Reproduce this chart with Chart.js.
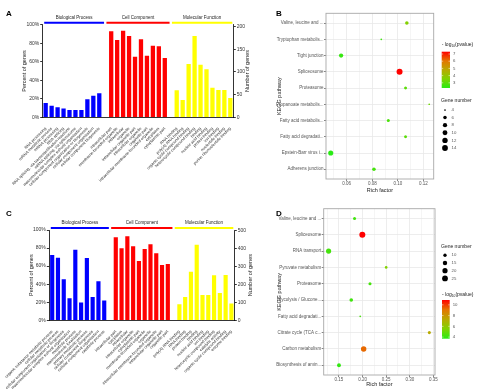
<!DOCTYPE html>
<html>
<head>
<meta charset="utf-8">
<script src="https://cdn.jsdelivr.net/npm/chart.js@4.4.0/dist/chart.umd.min.js"></script>
<style>
  html, body { margin: 0; padding: 0; background: #fff; }
  #wrap { position: relative; width: 482px; height: 392px; overflow: hidden; font-family: 'Liberation Sans', Arial, sans-serif; }
  #wrap canvas { position: absolute; }
  .tag { position: absolute; font-weight: bold; font-size: 8px; line-height: 1; }
</style>
</head>
<body>
<div id="wrap">
  <canvas id="goA" width="258" height="196" style="left:0;top:0"></canvas>
  <canvas id="keggB" width="224" height="196" style="left:258px;top:0"></canvas>
  <canvas id="goC" width="258" height="196" style="left:0;top:196px"></canvas>
  <canvas id="keggD" width="224" height="196" style="left:258px;top:196px"></canvas>
  <div class="tag" style="left:6px;top:10px">A</div>
  <div class="tag" style="left:276px;top:10px">B</div>
  <div class="tag" style="left:6px;top:210px">C</div>
  <div class="tag" style="left:276px;top:210px">D</div>
</div>
<script>
// --- GO panels (A, C) ---
const goGroupNames = ['Biological Process', 'Cell Component', 'Molecular Function'];
const goGroupColors = ['#0000ff', '#ff0000', '#ffff00'];

const aBpTerms = ['RNA processing', 'mRNA metabolic process', 'mRNA processing', 'RNA splicing',
  'RNA splicing, via transesterification reactions', 'mRNA splicing, via spliceosome',
  'macromolecular complex subunit organization', 'cellular component organization or biogenesis',
  'cellular component organization', 'cellular component biogenesis'];
const aBpPct = [15.5, 12.6, 10.8, 9.4, 7.9, 7.9, 7.9, 19.4, 23.4, 25.9];
const aCcTerms = ['intracellular part', 'membrane-bounded organelle', 'intracellular', 'organelle',
  'intracellular organelle part', 'intracellular organelle', 'organelle part',
  'intracellular membrane-bounded organelle', 'cytoplasm', 'cytoplasmic part'];
const aCcPct = [92.8, 83.5, 93.5, 87.8, 65.5, 84.2, 66.5, 77.3, 76.6, 64];
const aMfTerms = ['RNA binding', 'poly(A) RNA binding', 'organic cyclic compound binding',
  'heterocyclic compound binding', 'binding', 'nucleic acid binding', 'protein binding',
  'ion binding', 'nucleotide binding', 'purine ribonucleotide binding'];
const aMfPct = [29.1, 18.7, 57.6, 87.8, 56.8, 51.8, 32, 29.5, 29.5, 20.9];
const aGeneTotal = 204;
const aGeneTicks = [0, 50, 100, 150, 200];

const cBpTerms = ['organic substance metabolic process', 'cellular metabolic process',
  'cellular component organization or biogenesis', 'macromolecular complex subunit organization',
  'metabolic process', 'macromolecule localization', 'primary metabolic process',
  'cellular component biogenesis', 'cellular component organization', 'catabolic process'];
const cBpPct = [72.3, 69.4, 45.4, 24.4, 78.2, 19.6, 69, 25.8, 43.2, 21.8];
const cCcTerms = ['intracellular part', 'cytoplasm', 'intracellular', 'intracellular organelle',
  'cytoplasmic part', 'membrane-bounded organelle', 'organelle',
  'intracellular membrane-bounded organelle', 'intracellular organelle part', 'organelle part'];
const cCcPct = [91.9, 79.7, 93, 81.9, 65.7, 79, 84.1, 74.2, 61.3, 62.4];
const cMfTerms = ['poly(A) RNA binding', 'RNA binding', 'protein binding', 'binding',
  'nucleic acid binding', 'ion binding', 'heterocyclic compound binding', 'catalytic activity',
  'organic cyclic compound binding', 'enzyme binding'];
const cMfPct = [17.7, 25.8, 53.9, 83.8, 28, 28, 49.8, 30.3, 50.2, 18.5];
const cGeneTotal = 504;
const cGeneTicks = [0, 100, 200, 300, 400, 500];

const pctTicks = [0, 20, 40, 60, 80, 100];

// --- KEGG panels (B, D) ---
const bPathways = ['Valine, leucine and ...', 'Tryptophan metabolis...', 'Tight junction', 'Spliceosome',
  'Proteasome', 'Propanoate metabolis...', 'Fatty acid metabolis...', 'Fatty acid degradati...',
  'Epstein-Barr virus i...', 'Adherens junction'];
const bRichFactor = [0.107, 0.087, 0.0556, 0.1013, 0.106, 0.1245, 0.0925, 0.106, 0.0475, 0.0813];
const bGeneNumber = [6, 4, 8, 15, 5, 4, 5, 5, 11, 6];
const bLogP = [3.6, 2.6, 2.5, 7.3, 3.0, 3.3, 2.8, 3.0, 2.3, 2.7];
const bRichTicks = [0.06, 0.08, 0.10, 0.12];
const bRichMinor = [0.05, 0.07, 0.09, 0.11];
const bGeneBreaks = [4, 6, 8, 10, 12, 14];
const bLogPTicks = [3, 4, 5, 6, 7];

const dPathways = ['Valine, leucine and ...', 'Spliceosome', 'RNA transport', 'Pyruvate metabolism',
  'Proteasome', 'Glycolysis / Glucone...', 'Fatty acid degradati...', 'Citrate cycle (TCA c...',
  'Carbon metabolism', 'Biosynthesis of amin...'];
const dRichFactor = [0.183, 0.1995, 0.128, 0.250, 0.2157, 0.176, 0.195, 0.3415, 0.2023, 0.150];
const dGeneNumber = [9, 27, 20, 8, 9, 11, 7, 9, 22, 12];
const dLogP = [4.2, 10.9, 4.3, 5.5, 4.3, 4.2, 4.4, 7.3, 9.3, 3.9];
const dRichTicks = [0.15, 0.20, 0.25, 0.30, 0.35];
const dRichMinor = [0.125, 0.175, 0.225, 0.275, 0.325];
const dGeneBreaks = [10, 15, 20, 25];
const dLogPTicks = [4, 6, 8, 10];

const FONT = "'Liberation Sans', Arial, sans-serif";
Chart.defaults.font.family = FONT;

// green -> red gradient (rough copy of the ggplot Lab ramp)
const pvalStops = [[40, 235, 20], [128, 210, 0], [184, 170, 0], [228, 118, 0], [255, 0, 0]];
function pvalColor(v, range) {
  let t = (v - range[0]) / (range[1] - range[0]);
  t = Math.min(1, Math.max(0, t));
  const s = t * (pvalStops.length - 1);
  const i = Math.min(Math.floor(s), pvalStops.length - 2);
  const f = s - i;
  const c = pvalStops[i].map((a, k) => Math.round(a + (pvalStops[i + 1][k] - a) * f));
  return 'rgb(' + c.join(',') + ')';
}

// area-style size scale
function geneRadius(n, range) {
  const t = Math.min(1, Math.max(0, (n - range[0]) / (range[1] - range[0])));
  return 0.85 + 2.15 * Math.sqrt(t);
}

// header bars above GO groups + right axis title
const goHeader = {
  id: 'goHeader',
  afterDraw(chart, args, o) {
    const { ctx, chartArea: area, scales: { x } } = chart;
    const slot = x.getPixelForValue(1) - x.getPixelForValue(0);
    ctx.save();
    o.groups.forEach(g => {
      const x0 = Math.max(area.left + 1.5, x.getPixelForValue(g.first) - 0.8 * slot);
      const x1 = Math.min(area.right - 1, x.getPixelForValue(g.last) + 0.8 * slot);
      ctx.strokeStyle = g.color;
      ctx.lineWidth = 2;
      ctx.beginPath();
      ctx.moveTo(x0, area.top - 2);
      ctx.lineTo(x1, area.top - 2);
      ctx.stroke();
      ctx.fillStyle = '#222';
      ctx.font = '4.5px ' + FONT;
      ctx.textAlign = 'center';
      ctx.textBaseline = 'middle';
      ctx.fillText(g.name, (x0 + x1) / 2, area.top - 7.2);
    });
    ctx.translate(area.right + o.rightTitleOffset, (area.top + area.bottom) / 2);
    ctx.rotate(-Math.PI / 2);
    ctx.fillStyle = '#222';
    ctx.font = '5.5px ' + FONT;
    ctx.textAlign = 'center';
    ctx.textBaseline = 'middle';
    ctx.fillText(o.rightTitle, 0, 0);
    ctx.restore();
  }
};

function makeGoChart(id, bp, bpPct, cc, ccPct, mf, mfPct, geneTotal, geneTicks, geo) {
  const labels = [...bp, '', ...cc, '', ...mf];
  const values = [...bpPct, null, ...ccPct, null, ...mfPct];
  const colors = [...bp.map(() => goGroupColors[0]), '#fff', ...cc.map(() => goGroupColors[1]), '#fff',
    ...mf.map(() => goGroupColors[2])];
  const groups = [
    { name: goGroupNames[0], color: goGroupColors[0], first: 0, last: bp.length - 1 },
    { name: goGroupNames[1], color: goGroupColors[1], first: bp.length + 1, last: bp.length + cc.length },
    { name: goGroupNames[2], color: goGroupColors[2], first: bp.length + cc.length + 2, last: labels.length - 1 }
  ];
  const axisTicks = { color: '#333', font: { size: 5 }, padding: 1 };
  return new Chart(document.getElementById(id), {
    type: 'bar',
    data: {
      labels,
      datasets: [{ data: values, backgroundColor: colors, barPercentage: 0.72, categoryPercentage: 1 }]
    },
    options: {
      responsive: false,
      animation: false,
      layout: { padding: { top: geo.top, left: 0, right: 0, bottom: 0 }, autoPadding: false },
      plugins: {
        legend: { display: false },
        tooltip: { enabled: false },
        goHeader: { groups, rightTitle: 'Number of genes', rightTitleOffset: geo.rightTitleOffset }
      },
      scales: {
        x: {
          afterFit: s => { s.height = geo.xHeight; },
          grid: { display: false },
          border: { display: true, color: '#000', width: 0.8 },
          ticks: { color: '#333', font: { size: 4 }, minRotation: 45, maxRotation: 45, autoSkip: false, padding: 1 }
        },
        y: {
          min: 0, max: 100,
          afterFit: s => { s.width = geo.yWidth; },
          afterBuildTicks: s => { s.ticks = pctTicks.map(v => ({ value: v })); },
          grid: { drawOnChartArea: false, tickLength: 2.5, tickColor: '#000', lineWidth: 0.8 },
          border: { display: true, color: '#000', width: 0.8 },
          ticks: { ...axisTicks, callback: v => v + '%' },
          title: { display: true, text: 'Percent of genes', color: '#222', font: { size: 5.5 }, padding: { top: geo.yTitlePad, bottom: 0 } }
        },
        y2: {
          type: 'linear', position: 'right',
          min: 0, max: geneTotal,
          afterFit: s => { s.width = geo.y2Width; },
          afterBuildTicks: s => { s.ticks = geneTicks.map(v => ({ value: v })); },
          grid: { drawOnChartArea: false, tickLength: 2.5, tickColor: '#000', lineWidth: 0.8 },
          border: { display: true, color: '#000', width: 0.8 },
          ticks: axisTicks
        }
      }
    },
    plugins: [goHeader]
  });
}

// panel border for the bubble charts
const keggFrame = {
  id: 'keggFrame',
  afterDraw(chart) {
    const { ctx, chartArea: a } = chart;
    ctx.save();
    ctx.strokeStyle = '#a8a8a8';
    ctx.lineWidth = 0.9;
    ctx.strokeRect(a.left, a.top, a.right - a.left, a.bottom - a.top);
    ctx.restore();
  }
};

// colour bar + size legend
const keggLegend = {
  id: 'keggLegend',
  afterDraw(chart, args, o) {
    const ctx = chart.ctx;
    const [lo, hi] = o.logpRange;
    const cb = o.colorBar;
    ctx.save();
    ctx.fillStyle = '#222';
    ctx.textBaseline = 'middle';
    // colour title: - log10(pvalue)
    ctx.textAlign = 'left';
    ctx.font = '5px ' + FONT;
    let tx = cb.x;
    ctx.fillText('- log', tx, cb.titleY);
    tx += ctx.measureText('- log').width;
    ctx.font = '3.3px ' + FONT;
    ctx.fillText('10', tx, cb.titleY + 1.5);
    tx += ctx.measureText('10').width;
    ctx.font = '5px ' + FONT;
    ctx.fillText('(pvalue)', tx, cb.titleY);
    const grad = ctx.createLinearGradient(0, cb.y + cb.h, 0, cb.y);
    for (let k = 0; k <= 20; k++) grad.addColorStop(k / 20, pvalColor(lo + (hi - lo) * k / 20, o.logpRange));
    ctx.fillStyle = grad;
    ctx.fillRect(cb.x, cb.y, cb.w, cb.h);
    ctx.font = '4.3px ' + FONT;
    o.logpTicks.forEach(v => {
      const y = cb.y + cb.h - (v - lo) / (hi - lo) * cb.h;
      ctx.strokeStyle = '#fff';
      ctx.lineWidth = 0.5;
      ctx.beginPath();
      ctx.moveTo(cb.x, y); ctx.lineTo(cb.x + 1.5, y);
      ctx.moveTo(cb.x + cb.w - 1.5, y); ctx.lineTo(cb.x + cb.w, y);
      ctx.stroke();
      ctx.fillStyle = '#555';
      ctx.fillText(String(v), cb.x + cb.w + 3, y);
    });
    // size legend
    const sz = o.sizeKeys;
    ctx.fillStyle = '#222';
    ctx.font = '5px ' + FONT;
    ctx.fillText('Gene number', sz.titleX, sz.titleY);
    ctx.font = '4.3px ' + FONT;
    o.geneBreaks.forEach((g, i) => {
      const y = sz.y + i * sz.step;
      ctx.fillStyle = '#000';
      ctx.beginPath();
      ctx.arc(sz.x, y, geneRadius(g, o.geneRange), 0, Math.PI * 2);
      ctx.fill();
      ctx.fillStyle = '#555';
      ctx.fillText(String(g), sz.x + 6.5, y);
    });
    ctx.restore();
  }
};

function makeKeggChart(id, pathways, rich, genes, logp, richTicks, richMinor, geneBreaks, logpTicks, cfg) {
  const points = pathways.map((p, i) => ({ x: rich[i], y: i, r: geneRadius(genes[i], cfg.geneRange) }));
  const isMajor = v => richTicks.includes(v);
  const textTicks = { color: '#555', font: { size: 4.5 } };
  return new Chart(document.getElementById(id), {
    type: 'bubble',
    data: {
      datasets: [{
        data: points,
        backgroundColor: logp.map(v => pvalColor(v, cfg.logpRange)),
        borderWidth: 0,
        clip: false
      }]
    },
    options: {
      responsive: false,
      animation: false,
      layout: { padding: cfg.padding, autoPadding: false },
      plugins: {
        legend: { display: false },
        tooltip: { enabled: false },
        keggLegend: { logpRange: cfg.logpRange, logpTicks, geneBreaks, geneRange: cfg.geneRange,
          colorBar: cfg.colorBar, sizeKeys: cfg.sizeKeys }
      },
      scales: {
        x: {
          type: 'linear', min: cfg.xRange[0], max: cfg.xRange[1],
          afterFit: s => { s.height = 17; },
          afterBuildTicks: s => {
            s.ticks = [...richTicks, ...richMinor].sort((a, b) => a - b).map(v => ({ value: v }));
          },
          grid: {
            color: c => (c.tick && isMajor(c.tick.value)) ? '#e8e8e8' : '#f3f3f3',
            tickColor: c => (c.tick && isMajor(c.tick.value)) ? '#666' : 'rgba(0,0,0,0)',
            lineWidth: 0.8, tickLength: 2
          },
          border: { display: false },
          ticks: { ...textTicks, padding: 0.5, maxRotation: 0, autoSkip: false,
            callback: v => isMajor(v) ? v.toFixed(2) : '' },
          title: { display: true, text: 'Rich factor', color: '#222', font: { size: 5.5 }, padding: { top: 0, bottom: cfg.xTitlePad } }
        },
        y: {
          type: 'linear', reverse: true, min: -0.6, max: pathways.length - 0.4,
          afterFit: s => { s.width = cfg.yWidth; },
          afterBuildTicks: s => { s.ticks = pathways.map((p, i) => ({ value: i })); },
          grid: { color: '#e8e8e8', tickColor: '#666', lineWidth: 0.8, tickLength: 2 },
          border: { display: false },
          ticks: { ...textTicks, padding: 0.5, autoSkip: false, callback: v => pathways[v] },
          title: { display: true, text: 'KEGG pathway', color: '#222', font: { size: 5.5 }, padding: { top: cfg.yTitlePad, bottom: 0 } }
        }
      }
    },
    plugins: [keggFrame, keggLegend]
  });
}

makeGoChart('goA', aBpTerms, aBpPct, aCcTerms, aCcPct, aMfTerms, aMfPct, aGeneTotal, aGeneTicks,
  { top: 24.7, xHeight: 78.7, yWidth: 42.7, y2Width: 24.7, yTitlePad: 21.5, rightTitleOffset: 14.5 });

makeGoChart('goC', cBpTerms, cBpPct, cCcTerms, cCcPct, cMfTerms, cMfPct, cGeneTotal, cGeneTicks,
  { top: 34, xHeight: 71.7, yWidth: 49.3, y2Width: 23.7, yTitlePad: 28.5, rightTitleOffset: 16 });

makeKeggChart('keggB', bPathways, bRichFactor, bGeneNumber, bLogP, bRichTicks, bRichMinor, bGeneBreaks, bLogPTicks, {
  xRange: [0.0438, 0.128], geneRange: [4, 15], logpRange: [2.28, 7.32],
  padding: { top: 13.3, right: 48.3, left: 0, bottom: 0 }, yWidth: 68, yTitlePad: 18.5, xTitlePad: 2.7,
  colorBar: { x: 183.7, y: 51.7, w: 8.3, h: 36.3, titleY: 45 },
  sizeKeys: { titleX: 183, titleY: 100.7, x: 187, y: 110, step: 7.6 }
});

makeKeggChart('keggD', dPathways, dRichFactor, dGeneNumber, dLogP, dRichTicks, dRichMinor, dGeneBreaks, dLogPTicks, {
  xRange: [0.1176, 0.3535], geneRange: [7, 27], logpRange: [3.7, 10.9],
  padding: { top: 12.7, right: 47, left: 0, bottom: 0 }, yWidth: 65.7, yTitlePad: 18.5, xTitlePad: 4.7,
  colorBar: { x: 184, y: 104, w: 7.7, h: 38.7, titleY: 99 },
  sizeKeys: { titleX: 183, titleY: 51, x: 187, y: 59.3, step: 7.7 }
});
</script>
</body>
</html>
